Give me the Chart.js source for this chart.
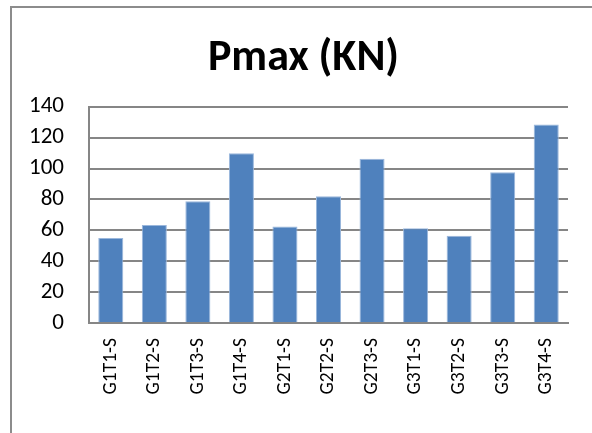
<!DOCTYPE html>
<html>
<head>
<meta charset="utf-8">
<script src="https://cdn.jsdelivr.net/npm/chart.js@4/dist/chart.umd.min.js"></script>
<style>
  html, body { margin: 0; padding: 0; background: #ffffff; }
  #wrap { position: relative; width: 592px; height: 433px; }
</style>
</head>
<body>
<div id="wrap"><canvas id="c" width="592" height="433"></canvas></div>
<script>
// Peak load per specimen
const specimens = ["G1T1-S", "G1T2-S", "G1T3-S", "G1T4-S", "G2T1-S", "G2T2-S", "G2T3-S", "G3T1-S", "G3T2-S", "G3T3-S", "G3T4-S"];
const pmaxValues = [55, 63.5, 78.8, 109.8, 62.5, 82, 106.3, 61.4, 56.4, 97.5, 128.5];
const yTicks = [0, 20, 40, 60, 80, 100, 120, 140];
const chartTitle = "Pmax (KN)";

const FONT = "Carlito, Lato, 'Liberation Sans', sans-serif";

// Outer frame of the chart object (left and top edges are visible)
// plus the title, centred on the full chart object rather than the canvas
const framePlugin = {
  id: 'frame',
  beforeDraw(chart) {
    const ctx = chart.ctx;
    ctx.save();
    ctx.strokeStyle = '#8c8c8c';
    ctx.lineWidth = 2;
    ctx.beginPath();
    ctx.moveTo(11, 440);
    ctx.lineTo(11, 7);
    ctx.lineTo(600, 7);
    ctx.stroke();

    ctx.fillStyle = '#000000';
    ctx.font = "bold 44px " + FONT;
    ctx.textAlign = 'center';
    ctx.textBaseline = 'alphabetic';
    ctx.fillText(chartTitle, 303.5, 70);
    ctx.restore();
  }
};

new Chart(document.getElementById('c'), {
  type: 'bar',
  data: {
    labels: specimens,
    datasets: [{
      label: chartTitle,
      data: pmaxValues,
      backgroundColor: '#4f81bd',
      borderColor: '#9ab7dc',
      borderWidth: 1,
      barPercentage: 0.575,
      categoryPercentage: 1.0
    }]
  },
  options: {
    responsive: false,
    animation: false,
    devicePixelRatio: 1,
    layout: { padding: { left: 14, right: 24, top: 106.7, bottom: 0 } },
    plugins: {
      legend: { display: false },
      tooltip: { enabled: false },
      title: { display: false }
    },
    scales: {
      x: {
        grid: { display: false, drawTicks: false },
        border: { display: true, color: '#868686', width: 2 },
        ticks: {
          color: '#000000',
          font: { family: FONT, size: 19.5 },
          minRotation: 90,
          maxRotation: 90,
          padding: 15,
          autoSkip: false
        },
        afterFit(scale) { scale.height = 110; }
      },
      y: {
        min: 0,
        max: 140,
        afterBuildTicks(scale) { scale.ticks = yTicks.map(v => ({ value: v })); },
        grid: { color: '#868686', lineWidth: 2, drawTicks: false },
        border: { display: true, color: '#868686', width: 2 },
        ticks: {
          color: '#000000',
          font: { family: FONT, size: 23 },
          padding: 25
        },
        afterFit(scale) { scale.width = 75; }
      }
    }
  },
  plugins: [framePlugin]
});
</script>
</body>
</html>
